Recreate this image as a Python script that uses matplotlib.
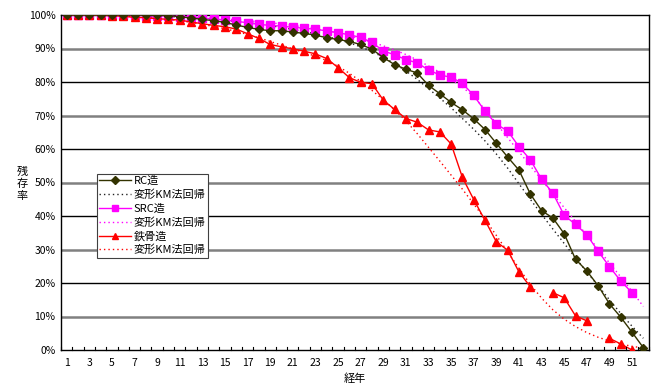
import numpy as np
import matplotlib
matplotlib.use("Agg")
import matplotlib.pyplot as plt
from matplotlib.lines import Line2D

plt.rcParams['font.family'] = ['Noto Sans CJK JP', 'DejaVu Sans']

years = list(range(1, 53))
tick_labels = [str(y) if y % 2 == 1 else "" for y in years]

rc = [100, 100, 100, 100, 100, 100, 100, 99.9, 99.9, 99.8,
      99.5, 99.1, 98.7, 98.3, 97.8, 97.0, 96.3, 95.7, 95.3, 95.3,
      94.9, 94.5, 94.0, 93.2, 92.7, 92.1, 91.2, 89.8, 87.3, 85.2,
      83.8, 82.7, 79.0, 76.5, 73.9, 71.7, 69.0, 65.8, 61.7, 57.6,
      53.7, 46.6, 41.6, 39.4, 34.7, 27.1, 23.6, 19.2, 13.8, 9.8,
      5.3, 0.7]
rc_reg = [100, 100, 100, 100, 99.9, 99.9, 99.8, 99.7, 99.6, 99.5,
          99.4, 99.2, 99.0, 98.7, 98.4, 98.1, 97.7, 97.3, 96.8, 96.3,
          95.7, 95.1, 94.4, 93.6, 92.7, 91.7, 90.5, 89.1, 87.4, 85.5,
          83.3, 80.8, 78.0, 75.2, 72.3, 69.1, 65.9, 62.4, 58.5, 54.3,
          49.6, 45.0, 40.5, 36.1, 31.8, 27.5, 23.3, 19.2, 15.0, 10.9,
          7.1, 3.5]
src = [100, 100, 100, 100, 100, 100, 100, 99.8, 99.8, 99.7,
       99.5, 99.3, 99.1, 98.8, 98.5, 98.1, 97.7, 97.2, 96.9, 96.7,
       96.3, 96.1, 95.7, 95.3, 94.7, 94.1, 93.3, 91.8, 89.3, 88.1,
       86.7, 85.7, 83.6, 82.1, 81.4, 79.6, 76.0, 71.3, 67.4, 65.4,
       60.7, 56.8, 51.0, 46.8, 40.2, 37.5, 34.4, 29.5, 24.9, 20.6,
       17.1, np.nan]
src_reg = [100, 100, 100, 100, 100, 100, 99.9, 99.8, 99.7, 99.6,
           99.5, 99.4, 99.2, 99.0, 98.8, 98.6, 98.3, 98.0, 97.7, 97.3,
           96.9, 96.4, 95.9, 95.3, 94.6, 93.8, 92.9, 91.9, 90.8, 89.6,
           88.2, 86.6, 84.8, 82.9, 80.8, 78.5, 75.6, 71.8, 67.6, 63.4,
           59.2, 55.0, 50.8, 46.6, 42.5, 38.4, 34.3, 30.2, 26.0, 21.8,
           17.5, 13.0]
steel = [100, 100, 100, 99.9, 99.8, 99.6, 99.3, 99.2, 98.9, 98.7,
         98.5, 97.9, 97.4, 96.9, 96.5, 95.8, 94.4, 93.0, 91.2, 90.5,
         89.9, 89.2, 88.4, 87.0, 84.3, 81.3, 79.9, 79.5, 74.6, 71.8,
         69.1, 68.0, 65.7, 65.1, 61.5, 51.5, 44.9, 38.7, 32.3, 29.8,
         23.3, 18.9, np.nan, 17.1, 15.6, 10.2, 8.7, np.nan, 3.5, 1.8,
         0.0, np.nan]
steel_reg = [100, 100, 99.9, 99.9, 99.8, 99.7, 99.5, 99.3, 99.0, 98.7,
             98.3, 97.8, 97.2, 96.6, 95.9, 95.1, 94.2, 93.2, 92.1, 91.0,
             89.9, 88.8, 87.7, 86.4, 84.7, 82.6, 80.2, 77.5, 74.7, 71.7,
             68.4, 64.6, 60.5, 56.4, 52.2, 48.0, 43.6, 39.0, 34.2, 29.3,
             24.4, 19.6, 15.5, 12.0, 9.2, 7.0, 5.2, 3.8, 2.7, 1.8,
             1.1, 0.6]

labels = ["RC造", "変形KM法回帰", "SRC造", "変形KM法回帰", "鉄骨造", "変形KM法回帰"]

fig = plt.figure(figsize=(6.56, 3.83), dpi=100)
ax = fig.add_axes([61/656, 1-350/383, (649-61)/656, (350-15)/383])

x = np.array(years)
ax.set_xlim(0.5, 52.5)
ax.set_ylim(0, 100)

for v in range(10, 100, 10):
    if (v // 10) % 2 == 1:
        ax.axhline(v, color='#808080', lw=1.8, zorder=1)
    else:
        ax.axhline(v, color='black', lw=1.0, zorder=1)

rc_col = '#333300'
dot = (0, (1.0, 2.2))
ax.plot(x, rc_reg, color='#222222', ls=dot, lw=1.0, zorder=2)
ax.plot(x, src_reg, color='#FF00FF', ls=dot, lw=1.0, zorder=2)
ax.plot(x, steel_reg, color='#FF0000', ls=dot, lw=1.0, zorder=2)
ax.plot(x, rc, color=rc_col, lw=1.0, marker='D', ms=4.2, mfc=rc_col, mec=rc_col, zorder=4)
ax.plot(x, src, color='#FF00FF', lw=1.0, marker='s', ms=5.2, mfc='#FF00FF', mec='#FF00FF', zorder=3)
ax.plot(x, steel, color='#FF0000', lw=1.0, marker='^', ms=5.5, mfc='#FF0000', mec='#FF0000', zorder=3)

ax.set_yticks(range(0, 101, 10))
ax.set_yticklabels([f"{v}%" for v in range(0, 101, 10)], fontsize=7.5)
ax.tick_params(axis='y', length=0, pad=4)
ax.set_xticks(x)
ax.set_xticklabels(tick_labels, fontsize=7.5)
ax.tick_params(axis='x', length=0, pad=6)
for b in np.arange(0.5, 53, 1.0):
    ax.plot([b, b], [0, 1.0], color='black', lw=0.8, zorder=5, clip_on=False)

for s in ax.spines.values():
    s.set_color('black')
    s.set_linewidth(1.0)

fig.text(22/656, 1-184/383, "残\n存\n率", fontsize=8, ha='center', va='center', linespacing=1.25)
fig.text(355/656, 1-379/383, "経年", fontsize=8, ha='center', va='center')

handles = [
    Line2D([], [], color=rc_col, lw=1.0, marker='D', ms=3.8),
    Line2D([], [], color='#222222', ls=dot, lw=1.0),
    Line2D([], [], color='#FF00FF', lw=1.0, marker='s', ms=4.5),
    Line2D([], [], color='#FF00FF', ls=dot, lw=1.0),
    Line2D([], [], color='#FF0000', lw=1.0, marker='^', ms=4.8),
    Line2D([], [], color='#FF0000', ls=dot, lw=1.0),
]
leg = ax.legend(handles, labels, loc='upper left',
                bbox_to_anchor=(97/656, 1-174/383), bbox_transform=fig.transFigure,
                fontsize=8, frameon=True, fancybox=False, framealpha=1,
                edgecolor='#404040', borderpad=0.2, labelspacing=0.3,
                handlelength=2.9, handletextpad=0.2, borderaxespad=0)
leg.get_frame().set_linewidth(0.8)

fig.savefig("out.png", dpi=100)
